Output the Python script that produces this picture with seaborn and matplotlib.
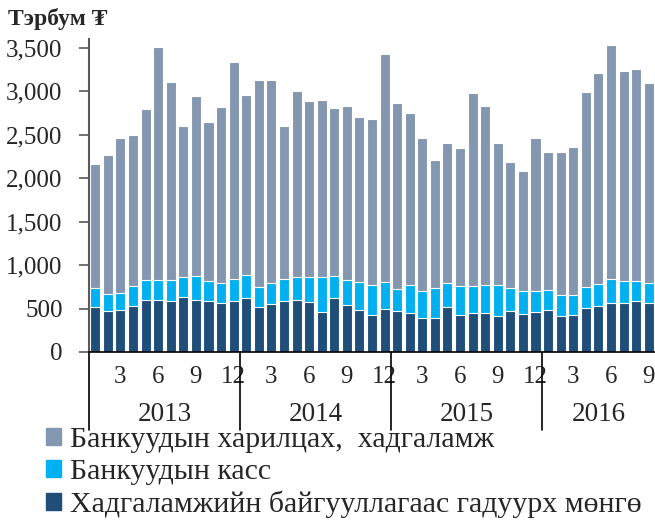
"""Money supply components, monthly 2013-2016 (stacked bars)."""

import matplotlib
matplotlib.use("Agg")
import matplotlib.pyplot as plt
import matplotlib.patches as mpatches
import matplotlib.transforms as mtransforms
import numpy as np
import pandas as pd
import seaborn as sns

# ── Data (billion MNT) ──
years = ["2013", "2014", "2015", "2016"]
months_per_year = [12, 12, 12, 9]

cash_outside = [
    514, 468, 480, 533, 595, 595, 583, 629, 595, 583, 560, 583,
    618, 514, 549, 591, 595, 572, 457, 618, 537, 487, 422, 499,
    468, 449, 388, 391, 518, 430, 449, 445, 411, 468, 434, 457,
    480, 411, 422, 503, 526, 560, 560, 583, 560,
]
bank_cash = [
    223, 203, 203, 227, 230, 234, 242, 230, 276, 234, 238, 257,
    268, 238, 245, 249, 268, 287, 402, 257, 288, 315, 345, 303,
    257, 318, 310, 342, 272, 326, 307, 322, 356, 265, 272, 241,
    230, 241, 230, 241, 261, 280, 253, 230, 230,
]
deposits = [
    1427, 1597, 1784, 1738, 1972, 2678, 2275, 1739, 2072, 1823, 2022, 2494,
    2068, 2379, 2333, 1758, 2141, 2023, 2042, 1937, 1999, 1903, 1911, 2624,
    2134, 1980, 1769, 1473, 1616, 1592, 2222, 2057, 1639, 1458, 1377, 1761,
    1596, 1654, 1708, 2245, 2417, 2686, 2418, 2445, 2306,
]

ytick_values = [0, 500, 1000, 1500, 2000, 2500, 3000, 3500]
ytick_labels = ["0", "500", "1,000", "1,500", "2,000", "2,500", "3,000", "3,500"]

labels = [
    "Банкуудын харилцах,  хадгаламж",
    "Банкуудын касс",
    "Хадгаламжийн байгууллагаас гадуурх мөнгө",
]
colors = ["#8497B0", "#00B0F0", "#1F4E79"]

# ── Build table ──
month = []
for n in months_per_year:
    month += list(range(1, n + 1))
df = pd.DataFrame({
    "idx": np.arange(len(month)),
    "month": month,
    "outside": cash_outside,
    "bank_cash": bank_cash,
    "deposits": deposits,
})
df["lvl1"] = df["outside"]
df["lvl2"] = df["outside"] + df["bank_cash"]
df["lvl3"] = df["lvl2"] + df["deposits"]

sns.set_style("white")
plt.rcParams["font.family"] = ["Liberation Serif", "DejaVu Serif"]

fig = plt.figure(figsize=(6.55, 5.2), dpi=100)
ax = fig.add_axes([89 / 655, 168 / 520, 566 / 655, 313 / 520])

# stacked: draw cumulative totals back to front
for col, color in zip(["lvl3", "lvl2", "lvl1"], colors):
    sns.barplot(data=df, x="idx", y=col, color=color, saturation=1,
                width=0.8, edgecolor="white", linewidth=0.8, ax=ax)

ax.set_xlim(-0.5, len(df) - 0.5)
ax.set_ylim(0, 3600)
ax.set_xlabel("")
ax.set_ylabel("")

ax.set_yticks(ytick_values)
ax.set_yticklabels(ytick_labels, fontsize=18)
ax.tick_params(axis="y", direction="out", length=7, width=1.2,
               color="#595959", pad=12, left=True)

tick_pos = df.index[df["month"] % 3 == 0]
ax.set_xticks(tick_pos)
ax.set_xticklabels([str(m) for m in df.loc[tick_pos, "month"]], fontsize=18)
ax.tick_params(axis="x", length=0, pad=10)

sns.despine(ax=ax)
ax.spines["left"].set_color("#595959")
ax.spines["left"].set_linewidth(1.5)
ax.spines["bottom"].set_color("black")
ax.spines["bottom"].set_linewidth(1.2)

# Year separators and labels
trans = mtransforms.blended_transform_factory(ax.transData, ax.transAxes)
bounds = np.concatenate([[0], np.cumsum(months_per_year)]) - 0.5
for b in bounds[:-1]:
    ax.plot([b, b], [0, -0.249], color="black", lw=1.2, transform=trans,
            clip_on=False)
for yr, lo, hi in zip(years, bounds[:-1], bounds[1:]):
    ax.text((lo + hi) / 2, -0.222, yr, transform=trans, ha="center",
            va="baseline", fontsize=19.5)

fig.text(8 / 655, 1 - 25 / 520, "Тэрбум ₮", fontsize=17, fontweight="bold",
         ha="left", va="baseline")

handles = [mpatches.Patch(color=c, label=l) for c, l in zip(colors, labels)]
fig.legend(handles=handles, loc="upper left",
           bbox_to_anchor=(46 / 655, 1 - 427 / 520), frameon=False,
           fontsize=21.5, handlelength=0.5, handleheight=0.5,
           handletextpad=0.3, labelspacing=0.2, borderpad=0,
           borderaxespad=0)

fig.savefig("out.png", dpi=100)
plt.close(fig)
